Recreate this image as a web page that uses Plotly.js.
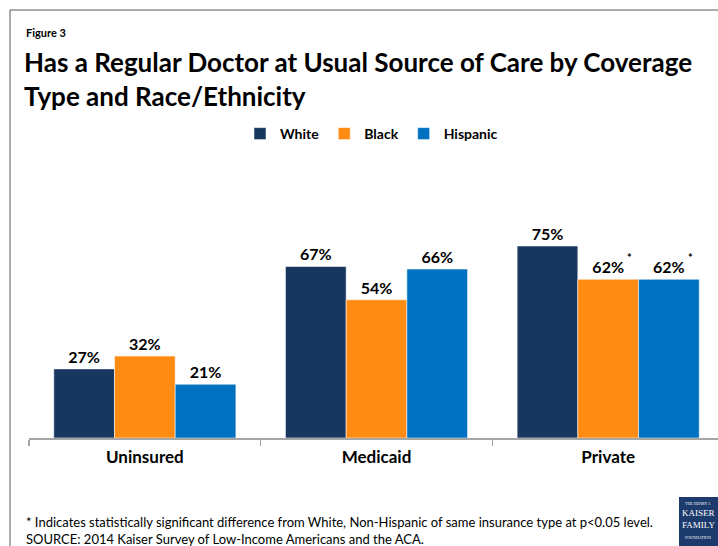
<!DOCTYPE html>
<html>
<head>
<meta charset="utf-8">
<script src="https://cdn.plot.ly/plotly-3.0.1.min.js"></script>
<style>html,body{margin:0;padding:0;background:#fff;}#chart{width:718px;height:546px;}</style>
</head>
<body>
<div id="chart"></div>
<script>
// ---- data ----
var categories = ["Uninsured", "Medicaid", "Private"];
var seriesNames = ["White", "Black", "Hispanic"];
var whiteVals = [27, 67, 75];
var blackVals = [32, 54, 62];
var hispanicVals = [21, 66, 62];
// significance flags (asterisk) per series per category
var blackSig = [false, false, true];
var hispanicSig = [false, false, true];

var colors = ["#17375E", "#FF8B12", "#0070C0"];
var FONT = 'Lato, "Open Sans", sans-serif';

var W = 718, H = 546;
var M = {l: 29, r: 0, t: 182, b: 108};
var pw = W - M.l - M.r, ph = H - M.t - M.b;
function px(x){ return (x - M.l) / pw; }
function py(y){ return (H - M.b - y) / ph; }

var allVals = [whiteVals, blackVals, hispanicVals];
var traces = allVals.map(function(v, i){
  return {
    type: "bar",
    name: seriesNames[i],
    x: categories,
    y: v,
    text: v.map(function(d){ return d + "%"; }),
    textposition: "outside",
    cliponaxis: false,
    textfont: {family: FONT, size: 16, color: "#000", weight: "bold"},
    marker: {color: colors[i], line: {color: "rgba(255,255,255,0.55)", width: 1}},
    hoverinfo: "x+y+name"
  };
});

var logoFont = "Liberation Serif, serif";
var annotations = [
  {text: "<b>Figure 3</b>", xref: "paper", yref: "paper", x: px(24), y: py(32), xanchor: "left", yanchor: "middle", showarrow: false, font: {family: FONT, size: 11, color: "#000"}},
  {text: "* Indicates statistically significant difference from White, Non-Hispanic of same insurance type at p<0.05 level.", xref: "paper", yref: "paper", x: px(24), y: py(522), xanchor: "left", yanchor: "middle", showarrow: false, font: {family: FONT, size: 13, color: "#000"}},
  {text: "SOURCE: 2014 Kaiser Survey of Low-Income Americans and the ACA.", xref: "paper", yref: "paper", x: px(24), y: py(539), xanchor: "left", yanchor: "middle", showarrow: false, font: {family: FONT, size: 13, color: "#000"}},
  // logo text
  {text: "THE HENRY J.", xref: "paper", yref: "paper", x: px(698), y: py(503), xanchor: "center", yanchor: "middle", showarrow: false, font: {family: logoFont, size: 4, color: "#fff"}},
  {text: "KAISER", xref: "paper", yref: "paper", x: px(698), y: py(513), xanchor: "center", yanchor: "middle", showarrow: false, font: {family: logoFont, size: 9, color: "#fff"}},
  {text: "FAMILY", xref: "paper", yref: "paper", x: px(698), y: py(525), xanchor: "center", yanchor: "middle", showarrow: false, font: {family: logoFont, size: 9, color: "#fff"}},
  {text: "FOUNDATION", xref: "paper", yref: "paper", x: px(698), y: py(537), xanchor: "center", yanchor: "middle", showarrow: false, font: {family: logoFont, size: 4, color: "#fff"}}
];

// significance asterisks
var sigSets = [[false, false, false], blackSig, hispanicSig];
var barOffsets = [-61, 0, 61];
sigSets.forEach(function(flags, s){
  flags.forEach(function(f, c){
    if (f) {
      annotations.push({text: "<b>*</b>", x: categories[c], y: allVals[s][c], xref: "x", yref: "y",
        xshift: barOffsets[s] + 21, yshift: 22, showarrow: false, yanchor: "middle", xanchor: "center",
        font: {family: FONT, size: 11, color: "#000"}});
    }
  });
});

var layout = {
  width: W, height: H,
  margin: M,
  paper_bgcolor: "#fff", plot_bgcolor: "#fff",
  font: {family: FONT, color: "#000"},
  title: {
    text: "<b>Has a Regular Doctor at Usual Source of Care by Coverage<br>Type and Race/Ethnicity</b>",
    font: {family: FONT, size: 26, color: "#000"},
    xref: "container", yref: "container", x: 24 / W, xanchor: "left", y: 1 - 72 / H, yanchor: "top"
  },
  barmode: "group",
  bargap: 0.214,
  bargroupgap: 0,
  showlegend: true,
  legend: {
    orientation: "h", xref: "paper", yref: "paper", x: px(240), y: py(118), xanchor: "left", yanchor: "top",
    font: {family: FONT, size: 14, color: "#000", weight: "bold"},
    traceorder: "normal", bgcolor: "rgba(0,0,0,0)"
  },
  xaxis: {
    type: "category",
    range: [-0.5, 2.474],
    showline: true, linecolor: "#A6A6A6", linewidth: 1.5,
    ticks: "outside", tickson: "boundaries", ticklen: 6, tickcolor: "#A6A6A6", tickwidth: 1.5,
    tickfont: {family: FONT, size: 17, color: "#000", weight: "bold"},
    ticklabelstandoff: 3,
    showgrid: false, zeroline: false, fixedrange: true
  },
  yaxis: {range: [0, 100], visible: false, showgrid: false, zeroline: false, fixedrange: true},
  shapes: [
    {type: "line", xref: "paper", yref: "paper", x0: px(10), x1: px(720), y0: py(10), y1: py(10), line: {color: "#595959", width: 1}},
    {type: "line", xref: "paper", yref: "paper", x0: px(10), x1: px(10), y0: py(10), y1: py(548), line: {color: "#595959", width: 1}},
    {type: "rect", xref: "paper", yref: "paper", x0: px(679), x1: px(720), y0: py(497), y1: py(548), fillcolor: "#1C3A6B", line: {width: 0}}
  ],
  annotations: annotations
};

Plotly.newPlot("chart", traces, layout, {displayModeBar: false, staticPlot: true});
</script>
</body>
</html>
